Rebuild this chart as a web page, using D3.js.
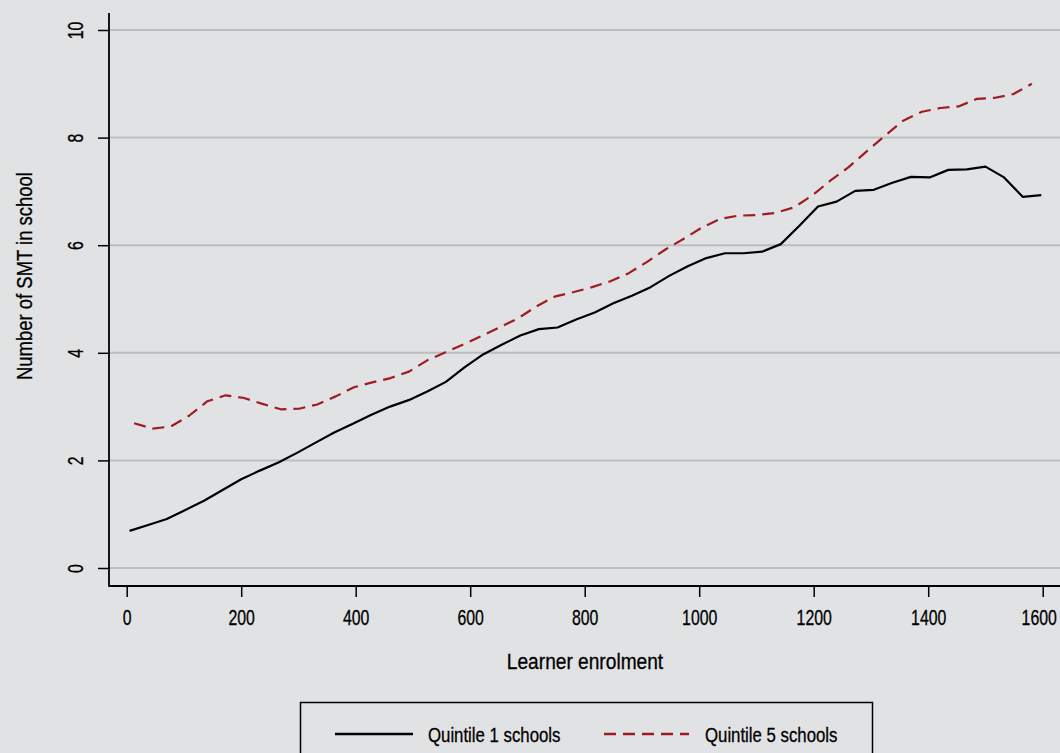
<!DOCTYPE html>
<head>
    <title>SMT by learner enrolment</title>
    <script src="https://cdn.jsdelivr.net/npm/d3@7"></script>
    <style>
        body { margin: 0; background: #e1e2e4; }
        svg { display: block; }
        text { font-family: "Liberation Sans", Arial, sans-serif; fill: #000; stroke: #000; stroke-width: 0.3px; }
    </style>
</head>
<body>
<div id="container"></div>

<script>

// Quintile 1 schools (solid black line)
const q1Enrol = [5, 37.5, 70, 102.5, 135, 167.5, 200, 232.5, 265, 297.5,
                 330, 362.5, 395, 427.5, 460, 492.5, 525, 557.5, 590, 622.5,
                 655, 687.5, 720, 752.5, 785, 817.5, 850, 882.5, 915, 947.5,
                 980, 1012.5, 1045, 1077.5, 1110, 1142.5, 1175, 1207.5, 1240, 1272.5,
                 1305, 1337.5, 1370, 1402.5, 1435, 1467.5, 1500, 1532.5, 1565, 1597.5];
const q1Smt = [0.69, 0.80, 0.91, 1.08, 1.25, 1.45, 1.65, 1.81, 1.96, 2.14,
               2.33, 2.52, 2.68, 2.85, 3.00, 3.12, 3.28, 3.46, 3.73, 3.97,
               4.15, 4.32, 4.44, 4.47, 4.62, 4.75, 4.92, 5.06, 5.22, 5.43,
               5.61, 5.76, 5.85, 5.85, 5.88, 6.02, 6.36, 6.72, 6.81, 7.01,
               7.03, 7.16, 7.27, 7.26, 7.40, 7.41, 7.46, 7.26, 6.90, 6.93];

// Quintile 5 schools (dashed red line)
const q5Enrol = [13, 45, 77, 109, 141, 173, 205, 237, 269, 301,
                 333, 365, 397, 429, 461, 493, 525, 557, 589, 621,
                 653, 685, 717, 749, 781, 813, 845, 877, 909, 941,
                 973, 1005, 1037, 1069, 1101, 1133, 1165, 1197, 1229, 1261,
                 1293, 1325, 1357, 1389, 1421, 1453, 1485, 1517, 1549, 1581];
const q5Smt = [2.69, 2.59, 2.63, 2.83, 3.10, 3.21, 3.16, 3.05, 2.95, 2.96,
               3.04, 3.19, 3.36, 3.45, 3.53, 3.65, 3.86, 4.01, 4.16, 4.32,
               4.48, 4.65, 4.87, 5.05, 5.13, 5.22, 5.33, 5.48, 5.69, 5.92,
               6.12, 6.33, 6.49, 6.55, 6.56, 6.60, 6.70, 6.92, 7.20, 7.45,
               7.75, 8.04, 8.32, 8.48, 8.55, 8.58, 8.72, 8.74, 8.81, 9.00];

// Tick labels
const xTicks = [0, 200, 400, 600, 800, 1000, 1200, 1400, 1600];
const yTicks = [0, 2, 4, 6, 8, 10];

const series = [
    { name: "Quintile 1 schools", enrol: q1Enrol, smt: q1Smt, color: "#000000", dash: null },
    { name: "Quintile 5 schools", enrol: q5Enrol, smt: q5Smt, color: "#a01c24", dash: "12,7" }
];

const width = 1060;
const height = 753;
const axisX = 109;   // position of the y axis line
const axisY = 586;   // position of the x axis line

// The original uses a condensed face: squeeze a regular one horizontally
const narrowDigits = 0.72;
const narrowWords = 0.84;

const svg = d3.select("#container")
              .append("svg")
              .attr("width", width)
              .attr("height", height);

svg.append("rect")
   .attr("width", width)
   .attr("height", height)
   .attr("fill", "#e1e2e4");

// Scales
const x = d3.scaleLinear()
            .domain([0, 1600])
            .range([126.7, 1042.7]);

const y = d3.scaleLinear()
            .domain([0, 10])
            .range([568, 30]);

// Horizontal grid lines
svg.append("g")
   .selectAll("line")
   .data(yTicks)
   .join("line")
   .attr("x1", axisX)
   .attr("x2", width)
   .attr("y1", d => y(d))
   .attr("y2", d => y(d))
   .attr("stroke", "#bcbdbf")
   .attr("stroke-width", 2);

// Axis y
const gy = svg.append("g")
              .attr("transform", `translate(${axisX},0)`)
              .call(d3.axisLeft(y).tickValues(yTicks).tickSize(11).tickFormat(d3.format("d")));
gy.select(".domain").remove();
gy.selectAll(".tick line").attr("stroke", "#000").attr("stroke-width", 1.5);
gy.selectAll(".tick text")
  .attr("x", 0)
  .attr("dy", 0)
  .attr("text-anchor", "middle")
  .attr("transform", `translate(-26,0) rotate(-90) scale(${narrowDigits},1)`)
  .attr("font-size", 22)
  .attr("font-family", null)
  .attr("fill", null);

// Axis x (last label pulled in a little, as in the original)
const gx = svg.append("g")
              .attr("transform", `translate(0,${axisY})`)
              .call(d3.axisBottom(x).tickValues(xTicks).tickSize(11).tickFormat(d3.format("d")));
gx.select(".domain").remove();
gx.selectAll(".tick line").attr("stroke", "#000").attr("stroke-width", 1.5);
gx.selectAll(".tick text")
  .attr("y", 0)
  .attr("dy", 0)
  .attr("transform", (d, i) => `translate(${i === xTicks.length - 1 ? -4 : 0},39) scale(${narrowDigits},1)`)
  .attr("font-size", 22)
  .attr("font-family", null)
  .attr("fill", null);

// Axis lines
svg.append("line")
   .attr("x1", axisX).attr("x2", axisX)
   .attr("y1", 13).attr("y2", axisY + 0.75)
   .attr("stroke", "#000").attr("stroke-width", 1.8);
svg.append("line")
   .attr("x1", axisX).attr("x2", width)
   .attr("y1", axisY).attr("y2", axisY)
   .attr("stroke", "#000").attr("stroke-width", 1.8);

// Axis titles
svg.append("text")
   .attr("transform", `translate(585,669) scale(0.87,1)`)
   .attr("text-anchor", "middle")
   .attr("font-size", 22)
   .text("Learner enrolment");

svg.append("text")
   .attr("transform", `translate(32,276) rotate(-90) scale(${narrowWords},1)`)
   .attr("text-anchor", "middle")
   .attr("font-size", 22)
   .text("Number of SMT in school");

// Lines
const line = d3.line()
               .x(d => x(d[0]))
               .y(d => y(d[1]));

svg.append("g")
   .selectAll("path")
   .data(series)
   .join("path")
   .attr("d", s => line(d3.zip(s.enrol, s.smt)))
   .attr("fill", "none")
   .attr("stroke", s => s.color)
   .attr("stroke-width", 2.2)
   .attr("stroke-dasharray", s => s.dash)
   .attr("stroke-linejoin", "round");

// Legend
const legend = svg.append("g");
legend.append("rect")
      .attr("x", 300.5)
      .attr("y", 702.5)
      .attr("width", 572)
      .attr("height", 70)
      .attr("fill", "none")
      .attr("stroke", "#000")
      .attr("stroke-width", 1.5);

const legendPos = [{ x1: 335, x2: 413, tx: 428 }, { x1: 604, x2: 689, tx: 705 }];
const items = legend.selectAll(".item")
                    .data(series)
                    .join("g")
                    .attr("class", "item");
items.append("line")
     .attr("x1", (s, i) => legendPos[i].x1)
     .attr("x2", (s, i) => legendPos[i].x2)
     .attr("y1", 734)
     .attr("y2", 734)
     .attr("stroke", s => s.color)
     .attr("stroke-width", 2.5)
     .attr("stroke-dasharray", s => s.dash);
items.append("text")
     .attr("transform", (s, i) => `translate(${legendPos[i].tx},742) scale(0.8,1)`)
     .attr("font-size", 21)
     .text(s => s.name);

</script>

</body>
